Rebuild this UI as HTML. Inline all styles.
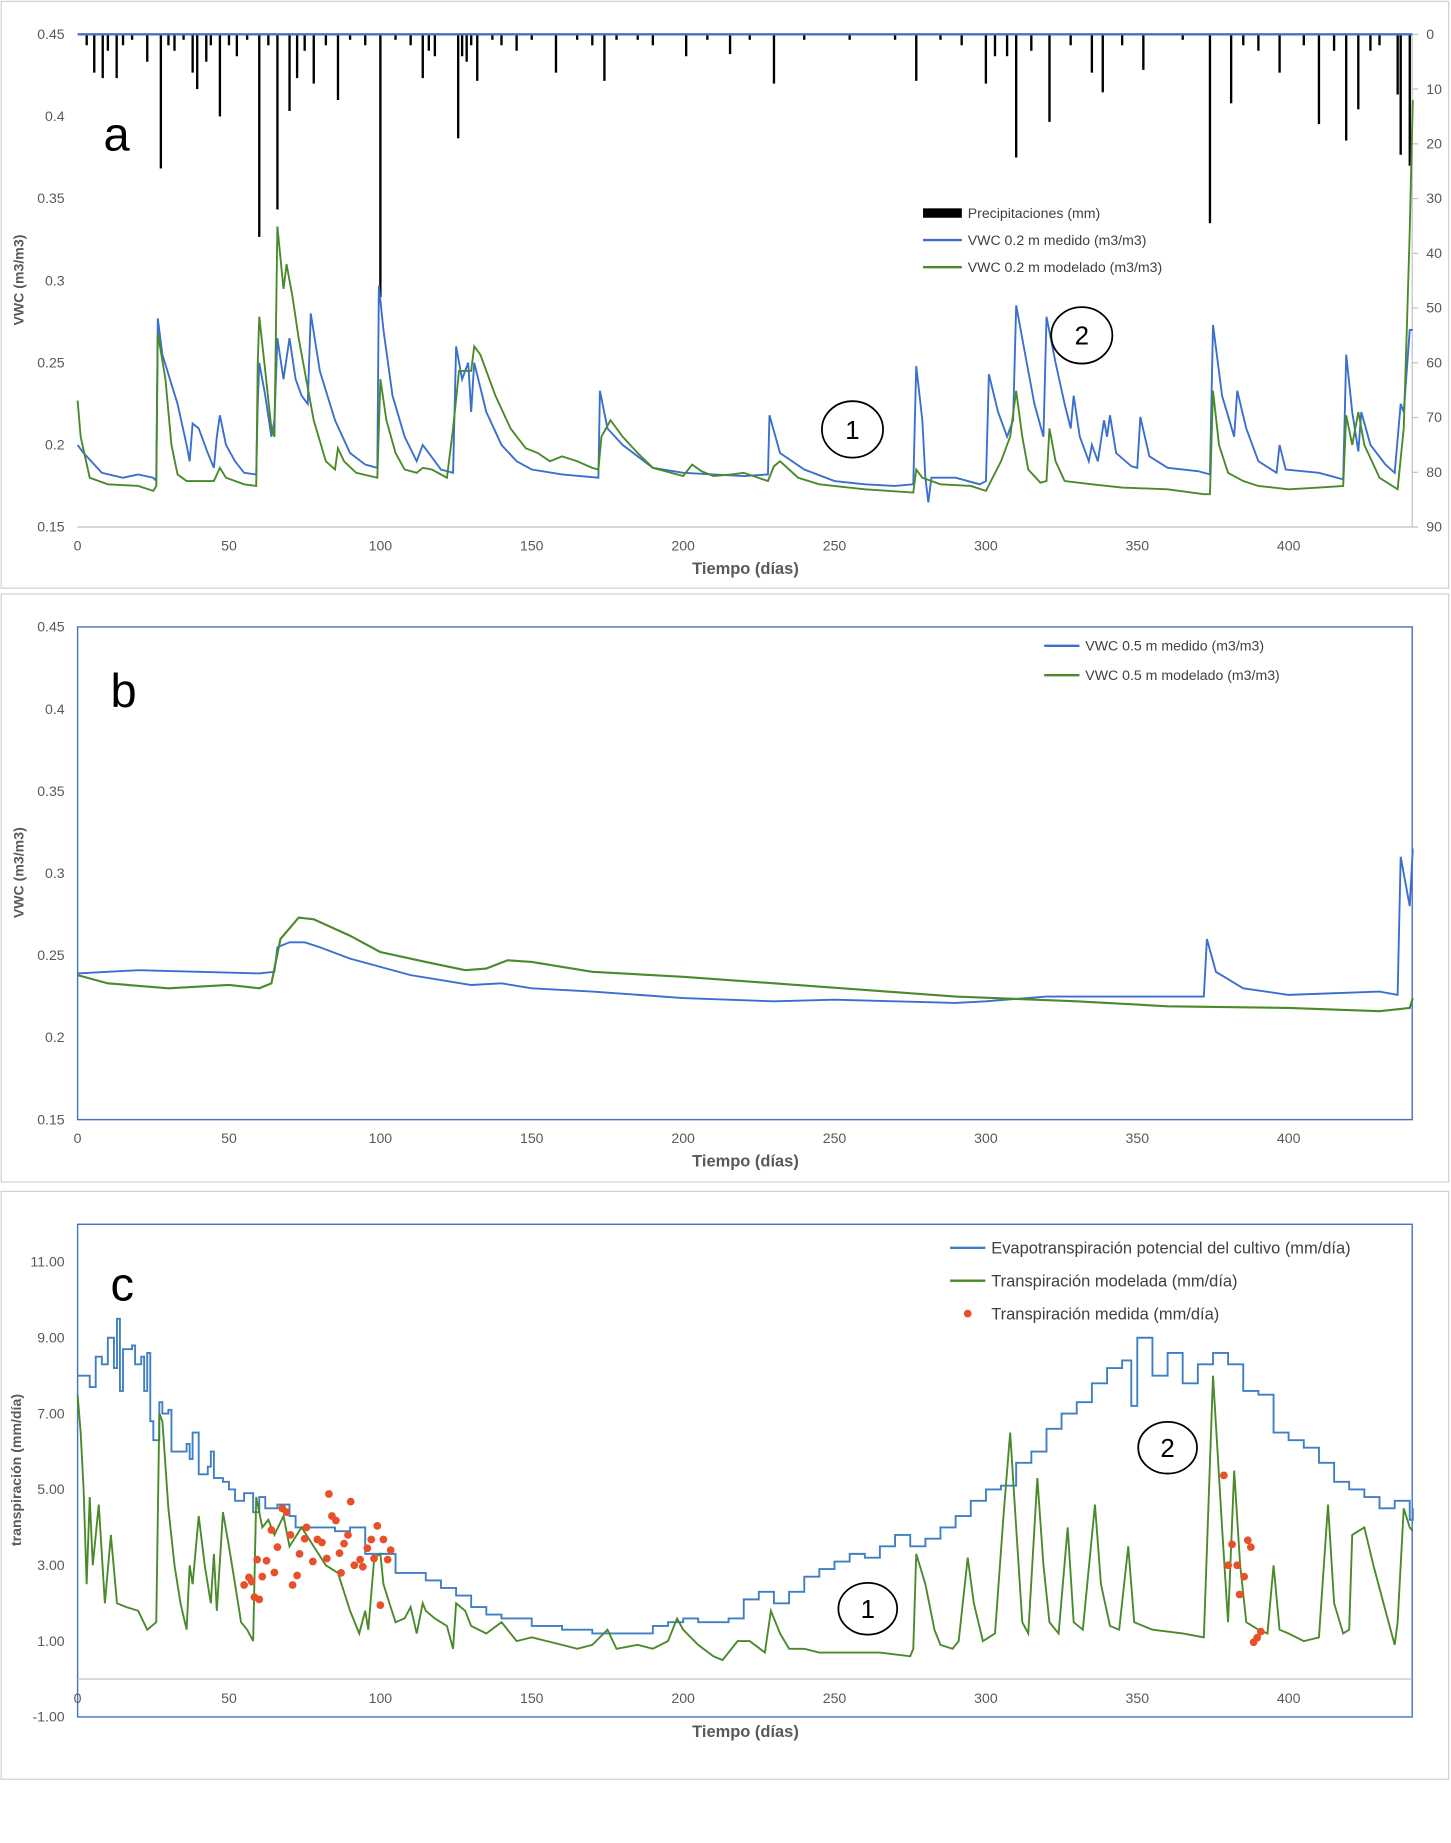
<!DOCTYPE html>
<html><head><meta charset="utf-8">
<style>
html,body{margin:0;padding:0;background:#fff;}
svg{display:block;font-family:"Liberation Sans",sans-serif;}
.tk{font-size:12px;fill:#595959;}
.ttl{font-size:14px;font-weight:bold;fill:#595959;}
.lg{font-size:12px;fill:#404040;}
</style></head>
<body>
<svg id="fig" width="1451" height="1843" viewBox="0 0 1234 1567" xmlns="http://www.w3.org/2000/svg">
<rect x="0" y="0" width="1234" height="1567" fill="#fff"/>
<rect x="1" y="1" width="1231" height="499" fill="none" stroke="#d0d0d0"/>
<rect x="1" y="505" width="1231" height="500" fill="none" stroke="#d0d0d0"/>
<rect x="1" y="1013" width="1231" height="500" fill="none" stroke="#d0d0d0"/>
<g id="ga"></g>
<g id="gb"></g>
<g id="gc"></g>
</svg>
<script>
// ---------- Panel a data ----------
const aPrecDays=[3,5.5,8.3,10,12.9,15,18,23,27.5,30,32,35,38,39.5,42.5,44,47,50,52.6,56,60,63,66,70,72.5,75,78,82,86,90,95,100,105,110,114,116,118,125.7,127,128.5,130,132,137,140,145,150,158,165,170,174,178,185,190,201,208,215.5,222,230,240,255,270,277,285,292,300,303,307,310,315,321,328,335,338.6,345,352,365,374,381,385,390,397,405,410,415,419,423,427,430,436,437,440];
const aPrecVals=[2,7,8,3,8,2,1,5,24.5,2,3,1,7,10,5,2,15,2,4,1,37,2,32,14,8,3,9,2,12,1,2,48,1,2,8,3,4,19,4,5,2,8.5,1,2,3,1,7,1,2,8.5,1,1,2,4,1,3.6,1,9,1,1,1,8.5,1,2,9,4,4,22.5,3,16,2,7,10.6,2,6.5,1,34.5,12.6,2,3,7,2,16.4,3,19.4,13.7,3,2,11,22,24];
const aMedDays=[0,2,8,15,20,25,26,26.5,28,33,36,37,38,40,43,45,46,47,49,52,55,59,59.5,60,62,64,65,66,68,70,72,74,76,77,80,85,90,95,99,99.5,101,104,108,112,114,116,120,124,125,127,129,130,131,135,140,145,150,160,172,172.5,175,180,190,200,210,220,228,228.5,232,240,250,260,270,276,277,279,280,281,282,290,298,300,301,304,307,309,310,313,316,319,320,323,326,328,329,331,334,335,337,339,340,341,343,348,350,351,354,360,370,374,375,378,382,383,386,390,396,397,399,410,418,419,421,423,424,427,432,435,437,438,440,441];
const aMedVals=[0.2,0.195,0.183,0.18,0.182,0.18,0.178,0.277,0.255,0.225,0.2,0.19,0.213,0.21,0.195,0.186,0.205,0.218,0.2,0.19,0.183,0.182,0.225,0.25,0.23,0.205,0.215,0.265,0.24,0.265,0.24,0.23,0.225,0.28,0.245,0.215,0.195,0.188,0.186,0.297,0.27,0.23,0.205,0.19,0.2,0.195,0.185,0.183,0.26,0.24,0.25,0.22,0.25,0.22,0.2,0.19,0.185,0.182,0.18,0.233,0.21,0.2,0.186,0.183,0.182,0.181,0.182,0.218,0.195,0.185,0.178,0.176,0.175,0.176,0.248,0.215,0.18,0.165,0.18,0.18,0.176,0.178,0.243,0.22,0.205,0.215,0.285,0.255,0.225,0.205,0.278,0.25,0.225,0.21,0.23,0.205,0.19,0.2,0.19,0.215,0.205,0.218,0.195,0.187,0.186,0.217,0.193,0.186,0.184,0.182,0.273,0.23,0.205,0.233,0.21,0.19,0.183,0.2,0.185,0.183,0.179,0.255,0.22,0.196,0.22,0.2,0.188,0.183,0.225,0.22,0.27,0.27];
const aModDays=[0,1,4,10,20,25,26,26.5,29,31,33,36,40,45,47,49,55,59,59.5,60,62,64,65,66,68,69,71,73,75,78,82,85,86,88,92,99,100,102,105,108,112,114,117,122,124,126,130,131,133,138,143,148,152,156,160,165,170,172,173,176,180,185,190,200,203,206,210,216,220,228,230,232,238,245,260,276,277,279,285,295,300,305,308,310,312,314,318,320,321,323,326,335,345,360,372,374,375,377,380,385,390,400,410,418,419,421,423,425,430,436,438,439,440,441];
const aModVals=[0.227,0.205,0.18,0.176,0.175,0.172,0.175,0.268,0.24,0.2,0.182,0.178,0.178,0.178,0.186,0.18,0.176,0.175,0.25,0.278,0.245,0.21,0.205,0.333,0.295,0.31,0.29,0.265,0.245,0.215,0.19,0.185,0.198,0.19,0.183,0.18,0.24,0.215,0.195,0.185,0.183,0.186,0.185,0.18,0.21,0.245,0.245,0.26,0.255,0.23,0.21,0.198,0.195,0.19,0.193,0.19,0.186,0.185,0.205,0.215,0.205,0.195,0.186,0.181,0.188,0.184,0.181,0.182,0.183,0.178,0.187,0.19,0.18,0.176,0.173,0.171,0.185,0.18,0.176,0.175,0.172,0.19,0.205,0.233,0.205,0.185,0.177,0.178,0.21,0.19,0.178,0.176,0.174,0.173,0.17,0.17,0.233,0.2,0.183,0.178,0.175,0.173,0.174,0.175,0.218,0.2,0.22,0.2,0.18,0.173,0.21,0.27,0.33,0.41];
const vwcTicks=[0.15,0.2,0.25,0.3,0.35,0.4,0.45];
const precTicks=[0,10,20,30,40,50,60,70,80,90];
const dayTicks=[0,50,100,150,200,250,300,350,400];
// ---------- Panel b data ----------
const bMedDays=[0,20,40,60,65,66,70,75,80,90,100,110,120,130,140,150,170,200,230,250,270,290,300,320,350,372,373,376,385,400,430,436,437,440,441];
const bMedVals=[0.239,0.241,0.24,0.239,0.24,0.255,0.258,0.258,0.255,0.248,0.243,0.238,0.235,0.232,0.233,0.23,0.228,0.224,0.222,0.223,0.222,0.221,0.222,0.225,0.225,0.225,0.26,0.24,0.23,0.226,0.228,0.226,0.31,0.28,0.315];
const bModDays=[0,10,30,50,60,64,67,73,78,90,100,115,128,135,142,150,170,200,230,260,290,330,360,400,430,440,441];
const bModVals=[0.238,0.233,0.23,0.232,0.23,0.233,0.26,0.273,0.272,0.262,0.252,0.246,0.241,0.242,0.247,0.246,0.24,0.237,0.233,0.229,0.225,0.222,0.219,0.218,0.216,0.218,0.224];
// ---------- Panel c data ----------
const cEtDays=[0,3,4,6,8,10,12,13,14,15,18,19,21,22,23,24,25,27,28,30,31,34,36,37,38,40,43,44,45,48,50,52,55,58,60,62,66,70,72,75,80,85,88,90,95,100,105,110,115,120,125,130,135,140,150,160,170,180,190,195,200,205,210,215,220,225,230,235,240,245,250,255,260,265,270,275,280,285,290,295,300,305,310,315,320,325,330,335,340,345,348,350,355,360,365,370,375,380,385,390,395,400,405,410,415,420,425,430,435,440,441];
const cEtVals=[8.0,8.0,7.7,8.5,8.3,9.0,8.2,9.5,7.6,8.7,8.8,8.3,8.5,7.6,8.6,6.8,6.3,7.3,7.0,7.1,6.0,6.0,6.2,5.8,6.5,5.4,5.6,6.0,5.3,5.2,5.0,4.7,4.9,4.4,4.8,4.5,4.6,4.3,4.0,4.0,4.0,3.9,3.9,4.0,3.3,3.3,2.8,2.8,2.6,2.4,2.2,1.9,1.7,1.6,1.4,1.3,1.2,1.2,1.4,1.5,1.6,1.5,1.5,1.6,2.1,2.3,2.0,2.3,2.7,2.9,3.1,3.3,3.2,3.5,3.8,3.5,3.7,4.0,4.3,4.7,5.0,5.1,5.7,6.0,6.6,7.0,7.3,7.8,8.2,8.4,7.2,9.0,8.0,8.6,7.8,8.3,8.6,8.3,7.6,7.5,6.5,6.3,6.1,5.7,5.2,5.0,4.8,4.5,4.7,4.2,4.5];
const cModDays=[0,1,2,3,4,5,7,9,11,13,16,20,23,26,27,28,30,32,34,36,37,38,40,42,44,45,46,48,50,52,54,56,58,59,61,63,65,68,70,74,78,82,86,90,93,95,96,98,100,101,103,105,108,110,112,114,115,118,122,124,125,128,130,135,140,145,150,155,160,165,170,175,178,185,190,195,198,200,205,210,213,215,218,222,227,229,232,235,240,245,255,265,275,276,277,280,283,285,289,291,294,296,299,303,306,308,310,312,314,317,319,321,324,327,329,332,336,338,341,344,347,349,355,365,372,375,378,380,382,384,386,390,393,395,397,400,405,410,413,415,418,420,421,425,428,432,435,436,438,440,441];
const cModVals=[7.5,6.5,5.0,2.5,4.8,3.0,4.6,2.0,3.8,2.0,1.9,1.8,1.3,1.5,7.0,6.8,4.5,3.0,2.0,1.3,3.0,2.5,4.3,3.0,2.0,3.3,1.8,4.4,3.5,2.5,1.5,1.3,1.0,4.8,4.0,4.2,3.8,4.3,3.5,4.0,3.5,3.0,2.8,1.8,1.2,1.8,1.3,3.2,3.3,2.5,2.0,1.5,1.6,1.9,1.2,2.0,1.8,1.6,1.4,0.8,2.0,1.8,1.4,1.2,1.5,1.0,1.1,1.0,0.9,0.8,0.9,1.3,0.8,0.9,0.8,1.0,1.6,1.3,0.9,0.6,0.5,0.7,1.0,1.0,0.7,1.8,1.2,0.8,0.8,0.7,0.7,0.7,0.6,0.8,3.3,2.5,1.3,0.9,0.8,1.0,3.2,2.0,1.0,1.2,4.5,6.5,4.0,1.5,1.2,5.3,3.0,1.5,1.2,4.0,1.5,1.3,4.6,2.5,1.4,1.3,3.5,1.5,1.3,1.2,1.1,8.0,4.0,1.5,5.5,3.0,1.5,1.3,1.2,3.0,1.3,1.2,1.0,1.1,4.6,2.0,1.2,1.3,3.8,4.0,3.0,1.8,0.9,1.5,4.5,4.0,3.9];
const cObsDays=[55,56.6,57.5,58.4,60,59.3,61,62.4,64,65,66,67.6,69,70.3,71,72.5,73.3,75,75.6,77.7,79.2,80.7,82.3,83,84,85.3,86.5,87,88,89.3,90.2,91.4,93.3,94.2,95.7,97,97.9,99,100,101,102.4,103.4,378.6,381.3,380,383,385.3,383.8,386.5,387.5,388.4,389.6,390.8];
const cObsVals=[2.48,2.68,2.57,2.16,2.1,3.15,2.7,3.12,3.93,2.81,3.48,4.5,4.4,3.8,2.48,2.73,3.3,3.7,4.0,3.1,3.68,3.6,3.18,4.88,4.3,4.18,3.32,2.8,3.57,3.8,4.68,3.0,3.15,2.96,3.45,3.68,3.18,4.04,1.95,3.68,3.15,3.4,5.37,3.55,3.0,3.0,2.7,2.23,3.66,3.48,0.97,1.09,1.25];
const cTicks=[-1,1,3,5,7,9,11];

const NS='http://www.w3.org/2000/svg';
function mk(parent,tag,attrs){const e=document.createElementNS(NS,tag);for(const k in attrs)e.setAttribute(k,attrs[k]);parent.appendChild(e);return e;}
function txt(parent,x,y,s,cls,anchor){const t=mk(parent,'text',{x:x,y:y,'class':cls,'text-anchor':anchor||'start'});t.textContent=s;return t;}
const X0=66,X1=1201,DMAX=440.8;
const xDay=d=>X0+d*(X1-X0)/DMAX;
function yLin(v0,v1,p0,p1){return v=>p0+(v-v0)*(p1-p0)/(v1-v0);}
function pathFrom(days,vals,y,step){let d='';for(let i=0;i<days.length;i++){const px=xDay(days[i]).toFixed(1),py=y(vals[i]).toFixed(1);if(i===0)d+='M'+px+' '+py;else if(step){d+=' H'+px+' V'+py;}else d+=' L'+px+' '+py;}return d;}

// ===== Panel a =====
const ga=document.getElementById('ga');
const yA=yLin(0.15,0.45,448,29);
const yP=yLin(0,90,29,448);
mk(ga,'line',{x1:X0,y1:448,x2:X1,y2:448,stroke:'#bfbfbf'});
mk(ga,'line',{x1:X1,y1:29,x2:X1,y2:448,stroke:'#bfbfbf'});
vwcTicks.forEach(v=>{const l=txt(ga,55,yA(v)+4,String(v),'tk','end');

});
precTicks.forEach(v=>{mk(ga,'line',{x1:X1,y1:yP(v),x2:X1+5,y2:yP(v),stroke:'#bfbfbf'});const l=txt(ga,1213,yP(v)+4,String(v),'tk','start');

});
dayTicks.forEach(v=>{const l=txt(ga,xDay(v),468,String(v),'tk','middle');

});
for(let i=0;i<aPrecDays.length;i++){const r=mk(ga,'rect',{x:xDay(aPrecDays[i])-1,y:29,width:2,height:yP(aPrecVals[i])-29,fill:'#000'});

}
mk(ga,'line',{x1:X0,y1:29,x2:X1,y2:29,stroke:'#4472c4','stroke-width':2});
let p=mk(ga,'path',{d:pathFrom(aMedDays,aMedVals,yA),fill:'none',stroke:'#3a6fd0','stroke-width':1.6});

p=mk(ga,'path',{d:pathFrom(aModDays,aModVals,yA),fill:'none',stroke:'#4a8a2a','stroke-width':1.6});

let t=txt(ga,634,488,'Tiempo (días)','ttl','middle');
t=txt(ga,0,0,'VWC (m3/m3)','ttl','middle');t.setAttribute('transform','translate(20,238) rotate(-90)');t.style.fontSize='12px';
t=txt(ga,88,128,'a','', 'start');t.setAttribute('style','font-size:40px;fill:#000');
mk(ga,'rect',{x:785,y:177,width:33,height:8,fill:'#000'});
txt(ga,823,185,'Precipitaciones (mm)','lg');
mk(ga,'line',{x1:785,y1:204,x2:818,y2:204,stroke:'#3a6fd0','stroke-width':2});
txt(ga,823,208,'VWC 0.2 m medido (m3/m3)','lg');
mk(ga,'line',{x1:785,y1:227,x2:818,y2:227,stroke:'#4a8a2a','stroke-width':2});
txt(ga,823,231,'VWC 0.2 m modelado (m3/m3)','lg');
[[725,365,'1'],[920,285,'2']].forEach(c=>{mk(ga,'ellipse',{cx:c[0],cy:c[1],rx:26,ry:24,fill:'#fff',stroke:'#000','stroke-width':1.5});const l=txt(ga,c[0],c[1]+8,c[2],'','middle');l.setAttribute('style','font-size:22px;fill:#000');});

// ===== Panel b =====
const gb=document.getElementById('gb');
const yB=yLin(0.15,0.45,952,533);
mk(gb,'rect',{x:X0,y:533,width:X1-X0,height:419,fill:'none',stroke:'#4472c4','stroke-width':1.2});
vwcTicks.forEach(v=>{const l=txt(gb,55,yB(v)+4,String(v),'tk','end');

});
dayTicks.forEach(v=>{const l=txt(gb,xDay(v),972,String(v),'tk','middle');

});
p=mk(gb,'path',{d:pathFrom(bMedDays,bMedVals,yB),fill:'none',stroke:'#3a6fd0','stroke-width':1.6});

p=mk(gb,'path',{d:pathFrom(bModDays,bModVals,yB),fill:'none',stroke:'#4a8a2a','stroke-width':1.8});

t=txt(gb,634,992,'Tiempo (días)','ttl','middle');
t=txt(gb,0,0,'VWC (m3/m3)','ttl','middle');t.setAttribute('transform','translate(20,742) rotate(-90)');t.style.fontSize='12px';
t=txt(gb,94,601,'b','','start');t.setAttribute('style','font-size:40px;fill:#000');
mk(gb,'line',{x1:888,y1:549,x2:918,y2:549,stroke:'#3a6fd0','stroke-width':2});
txt(gb,923,553,'VWC 0.5 m medido (m3/m3)','lg');
mk(gb,'line',{x1:888,y1:574,x2:918,y2:574,stroke:'#4a8a2a','stroke-width':2});
txt(gb,923,578,'VWC 0.5 m modelado (m3/m3)','lg');

// ===== Panel c =====
const gc=document.getElementById('gc');
const yC=yLin(-1,11,1460,1073);
mk(gc,'rect',{x:X0,y:1041,width:X1-X0,height:419,fill:'none',stroke:'#4472c4','stroke-width':1.2});
mk(gc,'line',{x1:X0,y1:yC(0),x2:X1,y2:yC(0),stroke:'#bfbfbf'});
cTicks.forEach(v=>{const l=txt(gc,55,yC(v)+4,v.toFixed(2),'tk','end');

});
dayTicks.forEach(v=>{const l=txt(gc,xDay(v),1448,String(v),'tk','middle');

});
p=mk(gc,'path',{d:pathFrom(cEtDays,cEtVals,yC,true),fill:'none',stroke:'#3f7fc4','stroke-width':1.6});

p=mk(gc,'path',{d:pathFrom(cModDays,cModVals,yC),fill:'none',stroke:'#4a8a2a','stroke-width':1.6});

for(let i=0;i<cObsDays.length;i++){const c=mk(gc,'circle',{cx:xDay(cObsDays[i]),cy:yC(cObsVals[i]),r:3.3,fill:'#e8502a'});

}
t=txt(gc,634,1477,'Tiempo (días)','ttl','middle');
t=txt(gc,0,0,'transpiración (mm/día)','ttl','middle');t.setAttribute('transform','translate(18,1250) rotate(-90)');t.style.fontSize='12px';
t=txt(gc,94,1106,'c','','start');t.setAttribute('style','font-size:40px;fill:#000');
mk(gc,'line',{x1:808,y1:1061,x2:838,y2:1061,stroke:'#3f7fc4','stroke-width':2});
txt(gc,843,1066,'Evapotranspiración potencial del cultivo (mm/día)','lg').style.fontSize='14px';
mk(gc,'line',{x1:808,y1:1089,x2:838,y2:1089,stroke:'#4a8a2a','stroke-width':2});
txt(gc,843,1094,'Transpiración modelada (mm/día)','lg').style.fontSize='14px';
mk(gc,'circle',{cx:823,cy:1117,r:3.3,fill:'#e8502a'});
txt(gc,843,1122,'Transpiración medida (mm/día)','lg').style.fontSize='14px';
[[738,1368,'1'],[993,1231,'2']].forEach(c=>{mk(gc,'ellipse',{cx:c[0],cy:c[1],rx:25,ry:22,fill:'#fff',stroke:'#000','stroke-width':1.5});const l=txt(gc,c[0],c[1]+8,c[2],'','middle');l.setAttribute('style','font-size:22px;fill:#000');});
</script>
</body></html>
